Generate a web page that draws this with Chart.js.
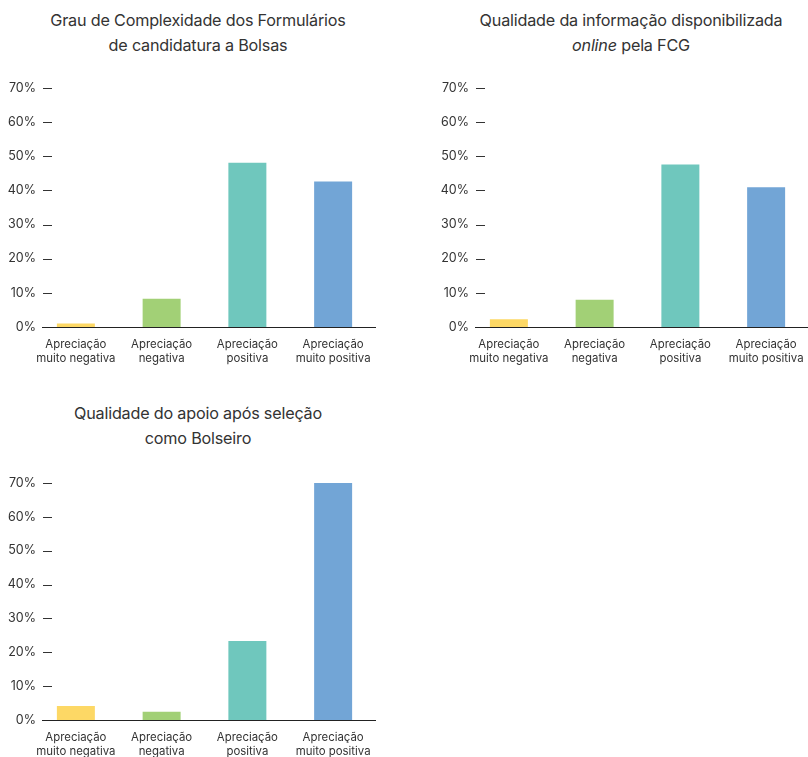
<!DOCTYPE html>
<html lang="pt">
<head>
<meta charset="utf-8">
<script src="https://cdn.jsdelivr.net/npm/chart.js@4/dist/chart.umd.min.js"></script>
<style>
  html, body { margin: 0; padding: 0; background: #fff; }
  body { width: 808px; height: 757px; overflow: hidden; position: relative; font-family: Inter, "Noto Sans", sans-serif; }
  .panel { position: absolute; width: 400px; height: 380px; }
  .title { position: absolute; left: 0; top: 8px; width: 396px; text-align: center; color: #333; font-size: 16.2px; line-height: 25px; letter-spacing: -0.2px; }
  .title em { font-style: italic; }
  canvas { position: absolute; left: 0; top: 60px; }
</style>
</head>
<body>
<div class="panel" style="left:0;top:0">
  <div class="title">Grau de Complexidade dos Formulários<br>de candidatura a Bolsas</div>
  <canvas id="c1" width="376" height="315"></canvas>
</div>
<div class="panel" style="left:433px;top:0">
  <div class="title">Qualidade da informação disponibilizada<br><em>online</em> pela FCG</div>
  <canvas id="c2" width="376" height="315"></canvas>
</div>
<div class="panel" style="left:0;top:393px">
  <div class="title">Qualidade do apoio após seleção<br>como Bolseiro</div>
  <canvas id="c3" width="376" height="315"></canvas>
</div>
<script>
// Answer categories (two-line labels)
const categories = [
  ["Apreciação", "muito negativa"],
  ["Apreciação", "negativa"],
  ["Apreciação", "positiva"],
  ["Apreciação", "muito positiva"]
];

// Share of answers (%) per question
const formularios = [1.0, 8.3, 48.1, 42.6];
const informacaoOnline = [2.3, 8.0, 47.6, 40.9];
const apoioBolseiro = [4.1, 2.4, 23.3, 70.0];

// Y axis ticks
const yTicks = [0, 10, 20, 30, 40, 50, 60, 70];

const barColors = ["#FDD865", "#A2D076", "#6FC7BD", "#72A5D6"];

const tickFont = { family: "Inter", size: 12.5 };

// Widest y label, so the right-aligned labels end 3px past the axis edge
const measureCtx = document.createElement("canvas").getContext("2d");
measureCtx.font = tickFont.size + "px " + tickFont.family;
const widestYLabel = Math.max(...yTicks.map(v => measureCtx.measureText(v + "%").width));

// Short tick dashes next to the labels and the zero baseline
const axisDecor = {
  id: "axisDecor",
  afterDraw(chart) {
    const { ctx, chartArea, scales } = chart;
    const y = scales.y;
    ctx.save();
    ctx.strokeStyle = "#333";
    ctx.lineWidth = 1;
    y.ticks.forEach(t => {
      const py = Math.round(y.getPixelForValue(t.value)) + 0.5;
      ctx.beginPath();
      ctx.moveTo(chartArea.left + 10, py);
      ctx.lineTo(chartArea.left + 19, py);
      ctx.stroke();
    });
    const by = Math.round(y.getPixelForValue(0)) + 0.5;
    ctx.strokeStyle = "#222";
    ctx.beginPath();
    ctx.moveTo(chartArea.left + 9, by);
    ctx.lineTo(chartArea.right, by);
    ctx.stroke();
    ctx.restore();
  }
};

function makeChart(id, values, topPad) {
  return new Chart(document.getElementById(id), {
    type: "bar",
    data: {
      labels: categories,
      datasets: [{
        data: values,
        backgroundColor: barColors,
        borderWidth: 0,
        categoryPercentage: 1,
        barPercentage: 0.443
      }]
    },
    options: {
      responsive: false,
      animation: false,
      devicePixelRatio: 1,
      layout: { padding: { top: topPad, left: 0, right: 0, bottom: 0 } },
      plugins: { legend: { display: false }, tooltip: { enabled: false }, title: { display: false } },
      scales: {
        x: {
          grid: { display: false, drawTicks: false },
          border: { display: false },
          afterFit(scale) {
            scale.height = 48;
            scale.paddingLeft = 0;
            scale.paddingRight = 0;
          },
          ticks: {
            color: "#333",
            font: { family: "Inter", size: 11.4, lineHeight: 1.23 },
            padding: 11,
            maxRotation: 0,
            autoSkip: false
          }
        },
        y: {
          min: 0,
          max: 70,
          grid: { display: false, drawTicks: false },
          border: { display: false },
          afterFit(scale) { scale.width = 33; },
          afterBuildTicks(scale) { scale.ticks = yTicks.map(v => ({ value: v })); },
          ticks: {
            color: "#333",
            font: tickFont,
            mirror: true,
            crossAlign: "far",
            padding: 3 - widestYLabel,
            z: 1,
            callback: v => v + "%"
          }
        }
      }
    },
    plugins: [axisDecor]
  });
}

makeChart("c1", formularios, 28);
makeChart("c2", informacaoOnline, 28);
makeChart("c3", apoioBolseiro, 30);
</script>
</body>
</html>
